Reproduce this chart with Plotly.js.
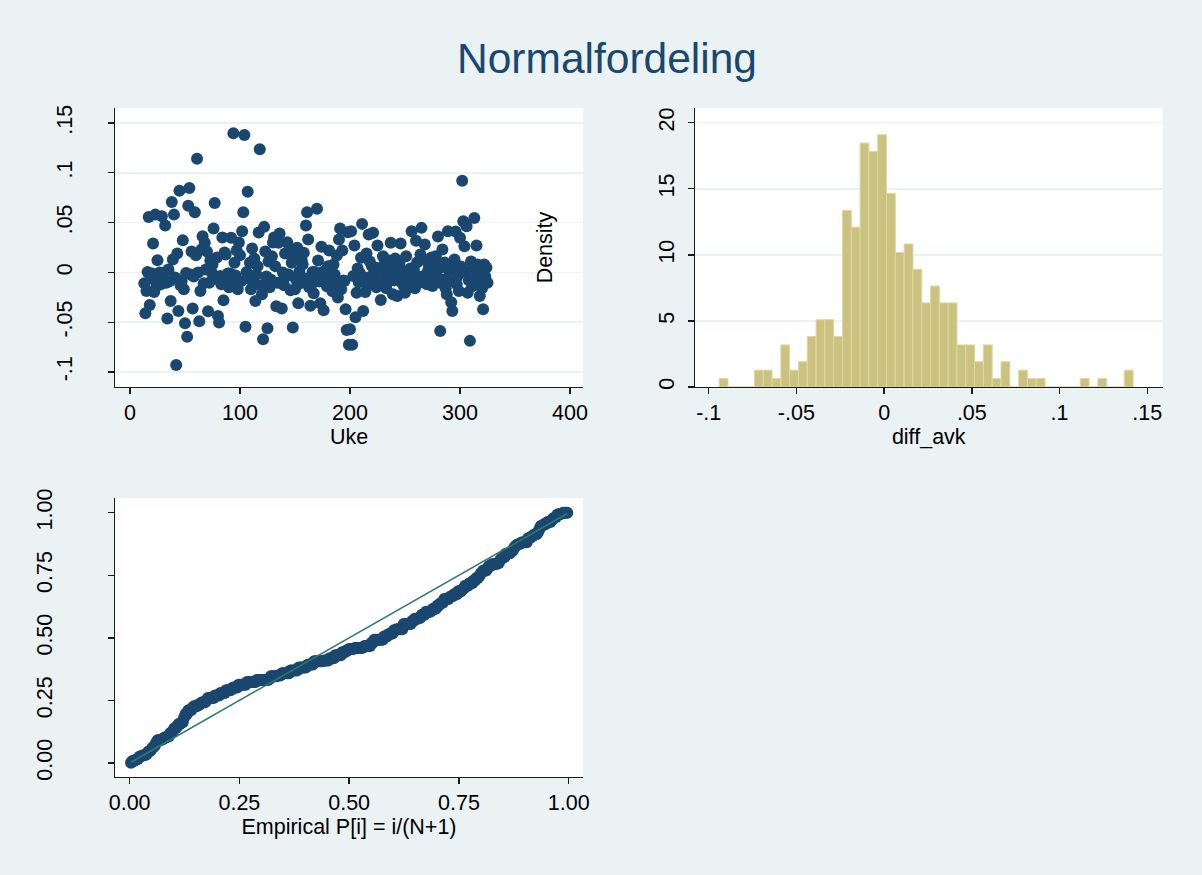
<!DOCTYPE html>
<html>
<head>
<meta charset="utf-8">
<script src="https://cdn.plot.ly/plotly-3.0.1.min.js"></script>
<style>html,body{margin:0;padding:0;background:#EAF2F3;}#chart{width:1202px;height:875px;}</style>
</head>
<body>
<div id="chart"></div>
<script>
// ---- Data ----
// Weekly series: diff_avk by Uke (weeks 13..325)
const firstWeek = 13;
const diffAvk = [
-0.011,-0.041,-0.0187,0.0003,0.0557,-0.0327,-0.006,-0.001,0.029,-0.0197,
0.058,-0.014,0.0123,-0.0087,0.0,-0.012,0.0563,-0.004,0.0,0.047,
-0.0103,-0.0463,0.003,-0.009,-0.0287,0.0707,0.013,0.058,-0.005,-0.093,
0.019,-0.0387,0.082,-0.013,-0.0087,0.0323,-0.017,-0.051,-0.0005,-0.0645,
0.067,0.0847,-0.002,0.021,-0.0363,-0.004,0.0603,0.0173,0.114,0.0,
-0.049,-0.0187,0.023,0.0363,-0.011,0.0297,0.003,0.021,-0.039,-0.0103,
0.012,0.0003,0.008,0.044,0.0697,-0.006,0.015,-0.0437,-0.0503,-0.0037,
-0.012,0.035,-0.028,0.020,0.018,-0.008,-0.001,-0.015,-0.001,0.0347,
-0.007,0.1397,0.0097,-0.003,0.022,-0.017,0.030,0.0173,-0.009,0.0413,
0.0603,0.138,-0.0545,0.0003,0.081,-0.006,0.0097,-0.017,0.024,-0.011,
0.014,-0.0287,-0.002,0.0063,0.040,0.1237,-0.013,-0.022,-0.067,0.0457,
0.021,-0.004,-0.056,0.011,-0.015,-0.007,0.0163,0.030,0.035,0.0063,
-0.034,-0.0103,0.0297,0.039,-0.0103,-0.0363,0.0,-0.013,0.019,-0.004,
0.0303,-0.002,0.024,-0.018,0.0097,-0.0553,0.018,-0.017,-0.007,0.0247,
-0.031,0.001,-0.011,0.013,0.008,0.0197,-0.006,0.047,0.0603,0.033,
-0.015,-0.0335,-0.012,0.0003,-0.021,0.0005,-0.003,0.064,0.012,-0.009,
-0.031,0.0257,0.0003,-0.038,-0.005,0.001,-0.014,0.0063,0.022,-0.007,
0.003,-0.019,0.008,-0.002,-0.0103,0.017,-0.0253,0.033,0.044,-0.017,
0.022,-0.008,-0.0087,-0.037,-0.0577,0.0403,-0.0727,-0.057,0.0413,-0.0727,
-0.0037,0.027,-0.045,-0.0203,0.004,-0.010,-0.0005,0.0147,0.0487,-0.0387,
-0.0053,-0.0197,0.019,-0.013,0.038,0.011,-0.004,0.0063,0.0397,-0.008,
0.005,-0.015,0.027,0.001,-0.011,-0.0277,0.003,0.0163,0.008,-0.006,
-0.016,-0.0103,0.012,-0.002,0.0297,0.006,-0.022,-0.008,0.014,0.003,
-0.0237,-0.005,0.009,0.029,-0.0103,0.001,-0.014,-0.0203,0.0163,-0.003,
0.001,-0.012,0.004,0.0413,-0.008,0.003,-0.016,0.0317,0.010,-0.004,
-0.0103,0.018,0.0447,-0.007,-0.0037,0.028,0.012,-0.012,0.002,0.0063,
-0.009,0.015,-0.0137,-0.003,0.009,0.0163,-0.006,0.036,0.004,-0.0587,
-0.011,0.023,-0.007,0.010,-0.016,-0.022,0.0413,0.002,-0.009,-0.030,
-0.0387,0.0047,0.013,0.041,-0.012,-0.0037,-0.0187,0.0347,0.006,0.092,
0.0513,0.0263,0.0003,0.0463,-0.0203,-0.008,-0.0687,0.011,-0.014,0.0047,
0.0547,-0.005,0.027,0.008,-0.011,-0.0237,0.003,-0.016,-0.037,0.008,
-0.004,0.005,-0.0103
];
const weeks = diffAvk.map((v, i) => firstWeek + i);

// Histogram of diff_avk (density scale): bin start, bin width, counts per bin
const binStart = -0.0940;
const binWidth = 0.00502;
const binCounts = [1,0,0,0,2,2,1,5,2,3,6,8,8,6,21,19,29,28,30,23,16,17,14,10,12,10,10,5,5,3,5,1,3,0,2,1,1,0,0,0,0,1,0,1,0,0,2];

// Tick labels
const ukeTicks = [0,100,200,300,400];
const diffTicks = [-0.1,-0.05,0,0.05,0.1,0.15];
const diffTickText = ["-.1","-.05","0",".05",".1",".15"];
const densTicks = [0,5,10,15,20];
const probTicks = [0,0.25,0.5,0.75,1];
const probTickText = ["0.00","0.25","0.50","0.75","1.00"];

// ---- Derived ----
const nObs = binCounts.reduce((a,b)=>a+b,0);
const binCenters = binCounts.map((c,i)=>binStart + (i+0.5)*binWidth);
const density = binCounts.map(c => c/(nObs*binWidth));

// Normal probability plot (pnorm): empirical P[i]=i/(N+1) vs Normal F[(x-m)/s]
function erf(x){
  const s = x<0?-1:1; x = Math.abs(x);
  const t = 1/(1+0.3275911*x);
  const y = 1-(((((1.061405429*t-1.453152027)*t)+1.421413741)*t-0.284496736)*t+0.254829592)*t*Math.exp(-x*x);
  return s*y;
}
const nD = diffAvk.length;
const mean = diffAvk.reduce((a,b)=>a+b,0)/nD;
const sd = Math.sqrt(diffAvk.reduce((a,b)=>a+(b-mean)*(b-mean),0)/(nD-1));
const sorted = diffAvk.slice().sort((a,b)=>a-b);
const ppX = sorted.map((v,i)=>(i+1)/(nD+1));
const ppY = sorted.map(v=>0.5*(1+erf((v-mean)/sd/Math.SQRT2)));

// ---- Styling ----
const NAVY = '#1A476F';
const BG = '#EAF2F3';
const AX = '#1a1a1a';
const FONT = 'Liberation Sans, Arial, Helvetica, sans-serif';
const FS = 21.5;

function axisBase(extra){
  return Object.assign({
    showline:true, linecolor:AX, linewidth:1.4,
    ticks:'outside', ticklen:6, tickwidth:1.4, tickcolor:AX,
    zeroline:false, showgrid:false, mirror:false,
    tickfont:{family:FONT, size:FS, color:'#000'},
    fixedrange:true
  }, extra);
}

const traces = [
  {type:'scatter', mode:'markers', x:weeks, y:diffAvk, xaxis:'x', yaxis:'y',
   marker:{color:NAVY, size:12, line:{width:0}}},
  {type:'bar', x:binCenters, y:density, width:binWidth, xaxis:'x2', yaxis:'y2',
   marker:{color:'#CAC27E', line:{color:'#DCD8A4', width:1}}},
  {type:'scatter', mode:'markers', x:ppX, y:ppY, xaxis:'x3', yaxis:'y3',
   marker:{color:NAVY, size:12, line:{width:0}}},
  {type:'scatter', mode:'lines', x:[ppX[0], ppX[nD-1]], y:[ppX[0], ppX[nD-1]], xaxis:'x3', yaxis:'y3',
   line:{color:'#2E7B68', width:1.6}}
];

const W = 1202, H = 875;
const px = v => v/W, py = v => 1 - v/H;

const layout = {
  width:W, height:H,
  paper_bgcolor:BG, plot_bgcolor:'#FFFFFF',
  margin:{l:0,r:0,t:0,b:0},
  showlegend:false, bargap:0,
  font:{family:FONT, color:'#000'},
  title:{text:'Normalfordeling', font:{family:FONT, size:42.5, color:NAVY},
         x:607/W, xanchor:'center', y:py(58), yanchor:'middle', xref:'paper', yref:'paper'},
  xaxis: axisBase({domain:[px(115), px(583)], anchor:'y', range:[-13.6, 411.8],
         tickvals:ukeTicks, title:{text:'Uke', font:{family:FONT,size:FS}, standoff:2}}),
  yaxis: axisBase({domain:[py(387), py(108)], anchor:'x', range:[-0.115, 0.165],
         tickvals:diffTicks, ticktext:diffTickText, tickangle:-90, ticklabelstandoff:27,
         showgrid:true, gridcolor:BG, gridwidth:1.5}),
  xaxis2: axisBase({domain:[px(695), px(1162.5)], anchor:'y2', range:[-0.1078, 0.1587],
         tickvals:diffTicks, ticktext:diffTickText, title:{text:'diff_avk', font:{family:FONT,size:FS}, standoff:2}}),
  yaxis2: axisBase({domain:[py(387), py(108)], anchor:'x2', range:[0, 21.11],
         tickvals:densTicks, tickangle:-90, ticklabelstandoff:5,
         showgrid:true, gridcolor:BG, gridwidth:1.5,
         title:{text:'Density', font:{family:FONT,size:FS}, standoff:96}}),
  xaxis3: axisBase({domain:[px(115), px(583)], anchor:'y3', range:[-0.0333, 1.0326],
         tickvals:probTicks, ticktext:probTickText,
         title:{text:'Empirical P[i] = i/(N+1)', font:{family:FONT,size:FS}, standoff:2}}),
  yaxis3: axisBase({domain:[py(777), py(498)], anchor:'x3', range:[-0.056, 1.0588],
         tickvals:probTicks, ticktext:probTickText, tickangle:-90, ticklabelstandoff:47})
};

Plotly.newPlot('chart', traces, layout, {staticPlot:true, displayModeBar:false});
</script>
</body>
</html>
